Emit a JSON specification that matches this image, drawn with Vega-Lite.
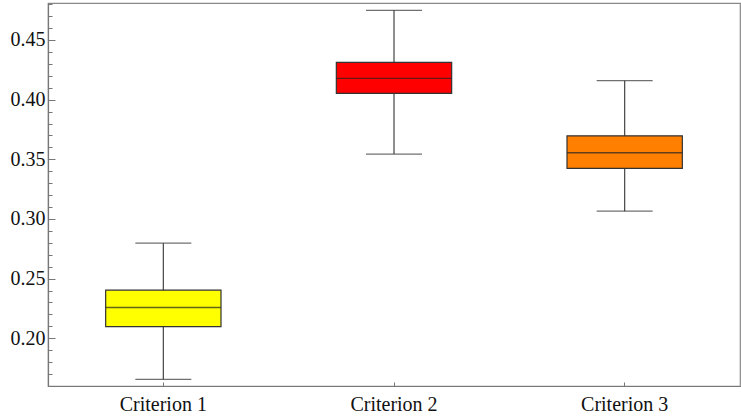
{
  "$schema": "https://vega.github.io/schema/vega-lite/v6.json",
  "autosize": {"type": "none"},
  "padding": {"left": 48, "top": 3, "right": 1, "bottom": 33},
  "width": 692,
  "height": 383,
  "background": "white",
  "config": {
    "view": {"stroke": "#888888", "strokeWidth": 1.2},
    "font": "Times New Roman, serif",
    "axis": {"labelFont": "Times New Roman, serif"}
  },
  "data": {
    "values": [
      {"criterion": "Criterion 1", "lower": 0.1656, "q1": 0.2098, "median": 0.2258, "q3": 0.2403, "upper": 0.2797, "color": "#FFFF00"},
      {"criterion": "Criterion 2", "lower": 0.3544, "q1": 0.4053, "median": 0.4179, "q3": 0.4313, "upper": 0.4749, "color": "#FF0000"},
      {"criterion": "Criterion 3", "lower": 0.3065, "q1": 0.3424, "median": 0.3555, "q3": 0.3697, "upper": 0.4159, "color": "#FF8000"}
    ]
  },
  "encoding": {
    "x": {
      "field": "criterion",
      "type": "nominal",
      "sort": null,
      "scale": {"type": "band", "paddingInner": 0, "paddingOuter": 0},
      "axis": {
        "title": null,
        "labelAngle": 0,
        "labelFontSize": 20,
        "labelColor": "#111111",
        "domainColor": "#777777",
        "domainWidth": 1.2,
        "tickColor": "#777777",
        "tickSize": -4,
        "labelPadding": 12,
        "grid": false
      }
    }
  },
  "layer": [
    {
      "mark": {"type": "rule", "color": "#444444", "strokeWidth": 1.2},
      "encoding": {
        "y": {
          "field": "lower",
          "type": "quantitative",
          "scale": {"domain": [0.16, 0.481], "nice": false, "zero": false},
          "axis": {
            "title": null,
            "values": [0.2, 0.25, 0.3, 0.35, 0.4, 0.45],
            "format": ".2f",
            "labelFontSize": 20,
            "labelColor": "#111111",
            "domainColor": "#777777",
            "domainWidth": 1.2,
            "tickColor": "#777777",
            "tickSize": -7,
            "labelPadding": 10,
            "grid": false
          }
        },
        "y2": {"field": "upper"}
      }
    },
    {
      "mark": {"type": "bar", "stroke": "#333333", "strokeWidth": 1.2, "width": {"band": 0.5}},
      "encoding": {
        "y": {"field": "q1", "type": "quantitative", "axis": null},
        "y2": {"field": "q3"},
        "color": {"field": "color", "type": "nominal", "scale": null, "legend": null}
      }
    },
    {
      "mark": {"type": "tick", "color": "#222222", "thickness": 1.3, "size": 115, "orient": "horizontal"},
      "encoding": {
        "y": {"field": "median", "type": "quantitative", "axis": null}
      }
    },
    {
      "mark": {"type": "tick", "color": "#333333", "thickness": 1.3, "size": 56, "orient": "horizontal"},
      "encoding": {
        "y": {"field": "upper", "type": "quantitative", "axis": null}
      }
    },
    {
      "mark": {"type": "tick", "color": "#333333", "thickness": 1.3, "size": 56, "orient": "horizontal"},
      "encoding": {
        "y": {"field": "lower", "type": "quantitative", "axis": null}
      }
    },
    {
      "mark": {"type": "point", "opacity": 0},
      "encoding": {
        "y": {
          "field": "median",
          "type": "quantitative",
          "axis": {
            "orient": "left",
            "title": null,
            "values": [0.17, 0.18, 0.19, 0.21, 0.22, 0.23, 0.24, 0.26, 0.27, 0.28, 0.29, 0.31, 0.32, 0.33, 0.34, 0.36, 0.37, 0.38, 0.39, 0.41, 0.42, 0.43, 0.44, 0.46, 0.47, 0.48],
            "labels": false,
            "domain": false,
            "tickColor": "#777777",
            "tickSize": -4,
            "grid": false
          }
        }
      }
    }
  ],
  "resolve": {"axis": {"y": "independent"}}
}
